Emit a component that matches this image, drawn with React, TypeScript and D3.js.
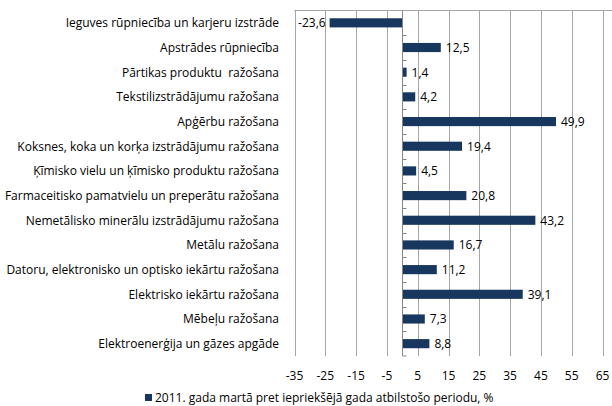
import { useEffect, useRef } from 'react';
import * as d3 from 'd3';

const CATEGORIES = [
  'Ieguves rūpniecība un karjeru izstrāde',
  'Apstrādes rūpniecība',
  'Pārtikas produktu  ražošana',
  'Tekstilizstrādājumu ražošana',
  'Apģērbu ražošana',
  'Koksnes, koka un korķa izstrādājumu ražošana',
  'Ķīmisko vielu un ķīmisko produktu ražošana',
  'Farmaceitisko pamatvielu un preperātu ražošana',
  'Nemetālisko minerālu izstrādājumu ražošana',
  'Metālu ražošana',
  'Datoru, elektronisko un optisko iekārtu ražošana',
  'Elektrisko iekārtu ražošana',
  'Mēbeļu ražošana',
  'Elektroenerģija un gāzes apgāde',
];

const VALUES = [-23.6, 12.5, 1.4, 4.2, 49.9, 19.4, 4.5, 20.8, 43.2, 16.7, 11.2, 39.1, 7.3, 8.8];

const TICKS = [-35, -25, -15, -5, 5, 15, 25, 35, 45, 55, 65];

const LEGEND_LABEL = '2011. gada martā pret iepriekšējā gada atbilstošo periodu, %';

const BAR_COLOR = '#17375E';
const FONT = '"Open Sans", sans-serif';
const FS = 12;

export default function App() {
  const svgRef = useRef<SVGSVGElement>(null);

  useEffect(() => {
    if (!svgRef.current) return;
    const svg = d3.select(svgRef.current);
    svg.selectAll('*').remove();

    const W = 612;
    const plot = { left: 294.5, right: 602.5, top: 10.5, bottom: 356 };

    const x = d3.scaleLinear().domain([-35, 65]).range([plot.left, plot.right]);
    const y = d3.scaleBand<string>().domain(CATEGORIES).range([plot.top, plot.bottom]).paddingInner(0.63).paddingOuter(0.315);
    const yRow = d3.scaleBand<string>().domain(CATEGORIES).range([plot.top, plot.bottom]);

    // gridlines
    svg.append('g')
      .selectAll('line')
      .data(TICKS)
      .join('line')
      .attr('x1', (d) => Math.round(x(d)) + 0.5).attr('x2', (d) => Math.round(x(d)) + 0.5)
      .attr('y1', plot.top).attr('y2', plot.bottom)
      .attr('stroke', '#A6A6A6').attr('stroke-width', 1);

    // top border
    svg.append('line')
      .attr('x1', plot.left).attr('x2', W)
      .attr('y1', plot.top).attr('y2', plot.top)
      .attr('stroke', '#A6A6A6');

    // bars
    svg.append('g')
      .selectAll('rect')
      .data(VALUES)
      .join('rect')
      .attr('x', (d) => x(Math.min(0, d)))
      .attr('y', (_, i) => y(CATEGORIES[i])!)
      .attr('width', (d) => Math.abs(x(d) - x(0)))
      .attr('height', y.bandwidth())
      .attr('fill', BAR_COLOR);

    // zero axis + category ticks
    const x0 = Math.round(x(0)) + 0.5;
    const axis = svg.append('g').attr('stroke', '#868686');
    axis.append('line')
      .attr('x1', x0).attr('x2', x0)
      .attr('y1', plot.top).attr('y2', plot.bottom);
    axis.selectAll('line.tick')
      .data(CATEGORIES.slice(1).concat(['__end']))
      .join('line')
      .attr('class', 'tick')
      .attr('x1', x0).attr('x2', x0 + 4)
      .attr('y1', (d) => (d === '__end' ? plot.bottom : Math.round(yRow(d)!) + 0.5))
      .attr('y2', (d) => (d === '__end' ? plot.bottom : Math.round(yRow(d)!) + 0.5));

    // value labels
    const fmt = (v: number) => d3.format('.1f')(v).replace('.', ',').replace('−', '-');
    svg.append('g')
      .selectAll('text')
      .data(VALUES)
      .join('text')
      .attr('x', (d) => (d < 0 ? x(d) - 4 : x(d) + 5))
      .attr('y', (_, i) => y(CATEGORIES[i])! + y.bandwidth() / 2)
      .attr('dy', '0.36em')
      .attr('text-anchor', (d) => (d < 0 ? 'end' : 'start'))
      .attr('font-family', FONT).attr('font-size', FS).attr('fill', '#000')
      .text((d) => fmt(d));

    // category labels
    svg.append('g')
      .selectAll('text')
      .data(CATEGORIES)
      .join('text')
      .attr('x', 279)
      .attr('y', (d) => yRow(d)! + yRow.bandwidth() / 2)
      .attr('dy', '0.36em')
      .attr('text-anchor', 'end')
      .attr('font-family', FONT).attr('font-size', FS).attr('fill', '#000')
      .style('white-space', 'pre')
      .text((d) => d);

    // x tick labels
    svg.append('g')
      .selectAll('text')
      .data(TICKS)
      .join('text')
      .attr('x', (d) => x(d))
      .attr('y', 380)
      .attr('text-anchor', 'middle')
      .attr('font-family', FONT).attr('font-size', FS).attr('fill', '#000')
      .text((d) => String(d));

    // legend
    const lg = svg.append('g');
    lg.append('rect').attr('x', 145).attr('y', 394).attr('width', 7).attr('height', 7).attr('fill', BAR_COLOR);
    lg.append('text')
      .attr('x', 155).attr('y', 402)
      .attr('font-family', FONT).attr('font-size', FS).attr('fill', '#000')
      .text(LEGEND_LABEL);
  }, []);

  return (
    <svg
      ref={svgRef}
      width={612}
      height={406}
      viewBox="0 0 612 406"
      style={{ position: 'absolute', left: 0, top: 0, background: '#fff' }}
    />
  );
}
